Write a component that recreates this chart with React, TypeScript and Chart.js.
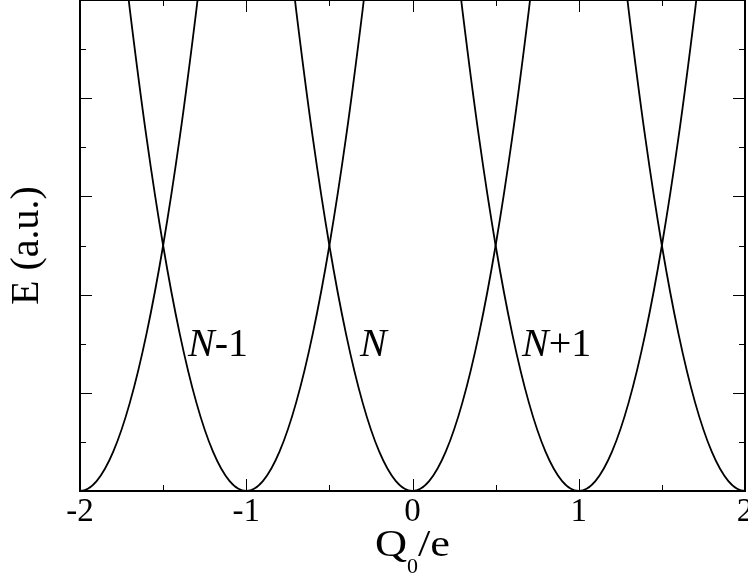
import { useEffect, useRef } from "react";
import { Chart, registerables } from "chart.js";

Chart.register(...registerables);

// Parabola centres (charge states N-2 ... N+2), in units of Q0/e
const CENTERS = [-2, -1, 0, 1, 2];
// Shape of one charging parabola: offset from its centre and energy (a.u.)
const OFFSETS = [-0.75, -0.7, -0.6, -0.5, -0.4, -0.3, -0.2, -0.1, 0, 0.1, 0.2, 0.3, 0.4, 0.5, 0.6, 0.7, 0.75];
const ENERGIES = [0.5625, 0.49, 0.36, 0.25, 0.16, 0.09, 0.04, 0.01, 0, 0.01, 0.04, 0.09, 0.16, 0.25, 0.36, 0.49, 0.5625];

// Axis ticks
const X_MAJOR = [-2, -1, 0, 1, 2];
const X_MINOR = [-1.5, -0.5, 0.5, 1.5];
const Y_MAJOR = [0, 0.1, 0.2, 0.3, 0.4, 0.5];
const Y_MINOR = [0.05, 0.15, 0.25, 0.35, 0.45];

// Curve labels: italic part, roman part
const LABEL_ITALIC = ["N", "N", "N"];
const LABEL_ROMAN = ["-1", "", "+1"];
const LABEL_Q = [-1.35, -0.316, 0.659];
const LABEL_E = [0.137, 0.137, 0.137];

const FONT = '"Liberation Serif", "Times New Roman", serif';

const framePlugin = {
  id: "frame",
  afterDraw(chart: any) {
    const { ctx, chartArea } = chart;
    const xs = chart.scales.x;
    const ys = chart.scales.y;
    const { left, right, top, bottom } = chartArea;
    ctx.save();
    ctx.strokeStyle = "#000";
    // ticks
    ctx.lineWidth = 1;
    const major = 12;
    const minor = 6;
    const vTick = (v: number, len: number) => {
      const px = Math.round(xs.getPixelForValue(v)) + 0.5;
      ctx.beginPath();
      ctx.moveTo(px, bottom);
      ctx.lineTo(px, bottom - len);
      ctx.moveTo(px, top);
      ctx.lineTo(px, top + len);
      ctx.stroke();
    };
    const hTick = (v: number, len: number) => {
      const py = Math.round(ys.getPixelForValue(v)) + 0.5;
      ctx.beginPath();
      ctx.moveTo(left, py);
      ctx.lineTo(left + len, py);
      ctx.moveTo(right, py);
      ctx.lineTo(right - len, py);
      ctx.stroke();
    };
    X_MAJOR.forEach((v) => vTick(v, major));
    X_MINOR.forEach((v) => vTick(v, minor));
    Y_MAJOR.forEach((v) => hTick(v, major));
    Y_MINOR.forEach((v) => hTick(v, minor));
    // frame
    ctx.lineWidth = 2;
    ctx.strokeRect(left, top, right - left, bottom - top);

    // curve labels
    ctx.fillStyle = "#000";
    ctx.textBaseline = "alphabetic";
    ctx.textAlign = "left";
    LABEL_ITALIC.forEach((it, i) => {
      const px = xs.getPixelForValue(LABEL_Q[i]);
      const py = ys.getPixelForValue(LABEL_E[i]);
      ctx.font = `italic 40px ${FONT}`;
      ctx.fillText(it, px, py);
      const w = ctx.measureText(it).width;
      ctx.font = `40px ${FONT}`;
      ctx.fillText(LABEL_ROMAN[i], px + w, py);
    });

    // x title: Q0/e
    const midX = (left + right) / 2;
    const sx = 1.2;
    ctx.font = `37px ${FONT}`;
    const wQ = ctx.measureText("Q").width * sx;
    const wE = ctx.measureText("/e").width * sx;
    ctx.font = `22px ${FONT}`;
    const wSub = ctx.measureText("0").width;
    const total = wQ + wSub + wE;
    const x0 = midX - total / 2;
    const base = 556;
    const drawStretched = (t: string, x: number, y: number) => {
      ctx.save();
      ctx.translate(x, y);
      ctx.scale(sx, 1);
      ctx.font = `37px ${FONT}`;
      ctx.fillText(t, 0, 0);
      ctx.restore();
    };
    drawStretched("Q", x0, base);
    ctx.font = `22px ${FONT}`;
    ctx.fillText("0", x0 + wQ, base + 17);
    drawStretched("/e", x0 + wQ + wSub, base);

    // y title
    ctx.save();
    ctx.translate(38, (top + bottom) / 2);
    ctx.rotate(-Math.PI / 2);
    ctx.textAlign = "center";
    ctx.font = `40px ${FONT}`;
    ctx.fillText("E (a.u.)", 0, 0);
    ctx.restore();

    ctx.restore();
  },
};

export default function App() {
  const ref = useRef<HTMLCanvasElement | null>(null);
  useEffect(() => {
    if (!ref.current) return;
    const datasets = CENTERS.map((c) => ({
      data: OFFSETS.map((o, i) => ({ x: c + o, y: ENERGIES[i] })),
      borderColor: "#000",
      borderWidth: 1.8,
      pointRadius: 0,
      fill: false,
      cubicInterpolationMode: "monotone" as const,
    }));
    const chart = new Chart(ref.current, {
      type: "line",
      data: { datasets },
      options: {
        animation: false,
        responsive: false,
        maintainAspectRatio: false,
        layout: { padding: { left: 0, right: 3, top: 0, bottom: 0 } },
        plugins: { legend: { display: false }, tooltip: { enabled: false } },
        scales: {
          x: {
            type: "linear",
            min: -2,
            max: 2,
            grid: { display: false },
            border: { display: false },
            ticks: {
              stepSize: 1,
              color: "#000",
              padding: -6,
              font: { family: FONT, size: 33 },
              maxRotation: 0,
            },
            afterFit(scale: any) {
              scale.height = 84;
              scale.paddingLeft = 0;
              scale.paddingRight = 0;
            },
          },
          y: {
            type: "linear",
            min: 0,
            max: 0.5,
            grid: { display: false },
            border: { display: false },
            ticks: { display: false },
            afterFit(scale: any) {
              scale.width = 80;
            },
          },
        },
      },
      plugins: [framePlugin],
    });
    return () => chart.destroy();
  }, []);
  return (
    <canvas
      ref={ref}
      width={748}
      height={575}
      style={{ position: "fixed", left: 0, top: 0, width: 748, height: 575, background: "#fff" }}
    />
  );
}
